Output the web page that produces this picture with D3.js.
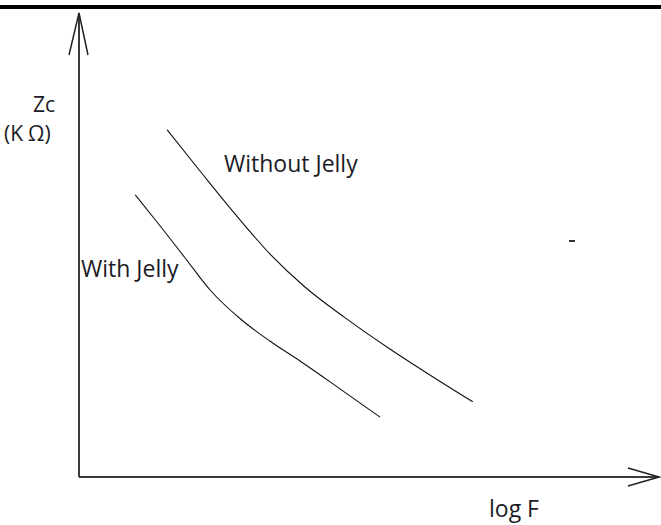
<!DOCTYPE html>
<html>
<head>
<meta charset="utf-8">
<script src="https://cdn.jsdelivr.net/npm/d3@7"></script>
<style>
  html, body { margin: 0; padding: 0; background: #fff; }
  svg { display: block; }
  text { font-family: "Open Sans", Lato, sans-serif; fill: #1b1b26; }
</style>
</head>
<body>
<svg id="chart" width="661" height="525"></svg>
<script>
// Impedance vs. log frequency, qualitative sketch (arbitrary units 0-100 on both axes)
const logF_without = [15.2, 20.9, 26.9, 32.9, 39.0, 45.9, 53.6, 60.5, 67.9];
const zc_without   = [74.8, 65.9, 56.7, 48.1, 40.9, 34.3, 27.6, 22.0, 16.2];
const logF_with    = [9.7, 14.0, 18.3, 22.6, 27.8, 32.9, 38.1, 45.0, 51.9];
const zc_with      = [60.8, 54.1, 47.2, 40.3, 34.1, 29.3, 25.0, 19.0, 12.9];
const seriesNames  = ["Without Jelly", "With Jelly"];
const axisLabels   = { x: "log F", yTop: "Zc", yUnitK: "(K", yUnitOhm: "Ω)" };

const svg = d3.select("#chart");
const W = 661;

// plot frame
const origin = { x: 79, y: 477 };
const xEnd = 659, yEnd = 13;
const x = d3.scaleLinear().domain([0, 100]).range([origin.x, xEnd]);
const y = d3.scaleLinear().domain([0, 100]).range([origin.y, yEnd]);

// heavy rule across the top
svg.append("rect").attr("x", 0).attr("y", 5).attr("width", W).attr("height", 4).attr("fill", "#000");

// axes
const axisColor = "#3a3a3a";
svg.append("line")
  .attr("x1", x(0)).attr("y1", y(0)).attr("x2", x(0)).attr("y2", y(100))
  .attr("stroke", axisColor).attr("stroke-width", 2);
svg.append("line")
  .attr("x1", x(0)).attr("y1", y(0)).attr("x2", x(100)).attr("y2", y(0))
  .attr("stroke", axisColor).attr("stroke-width", 2);

// open arrowheads
const pts = a => a.map(p => p.join(",")).join(" ");
svg.append("polyline")
  .attr("points", pts([[x(0) - 10, y(100) + 42], [x(0), y(100)], [x(0) + 9, y(100) + 42]]))
  .attr("fill", "none").attr("stroke", "#222").attr("stroke-width", 1.5);
svg.append("polyline")
  .attr("points", pts([[x(100) - 31, y(0) - 9], [x(100), y(0)], [x(100) - 31, y(0) + 9]]))
  .attr("fill", "none").attr("stroke", "#222").attr("stroke-width", 1.5);

// curves
const line = d3.line().x(d => x(d[0])).y(d => y(d[1])).curve(d3.curveMonotoneX);
[d3.zip(logF_without, zc_without), d3.zip(logF_with, zc_with)].forEach(series => {
  svg.append("path").datum(series)
    .attr("d", line)
    .attr("fill", "none").attr("stroke", "#111").attr("stroke-width", 1.1);
});

// series labels
const fs = 23;
svg.append("text").attr("x", 224).attr("y", 172).attr("font-size", fs).text(seriesNames[0]);
svg.append("text").attr("x", 81).attr("y", 277).attr("font-size", fs).text(seriesNames[1]);

// axis labels
svg.append("text").attr("x", 489).attr("y", 517).attr("font-size", fs).text(axisLabels.x);
svg.append("text").attr("x", 33).attr("y", 112).attr("font-size", 21).text(axisLabels.yTop);
const unit = svg.append("text").attr("x", 4).attr("y", 141).attr("font-size", 21);
unit.append("tspan").text(axisLabels.yUnitK);
unit.append("tspan").attr("dx", 5).text(axisLabels.yUnitOhm);

// small stray tick mark
svg.append("line").attr("x1", 569).attr("y1", 241).attr("x2", 575).attr("y2", 241)
  .attr("stroke", "#333").attr("stroke-width", 2);
</script>
</body>
</html>
